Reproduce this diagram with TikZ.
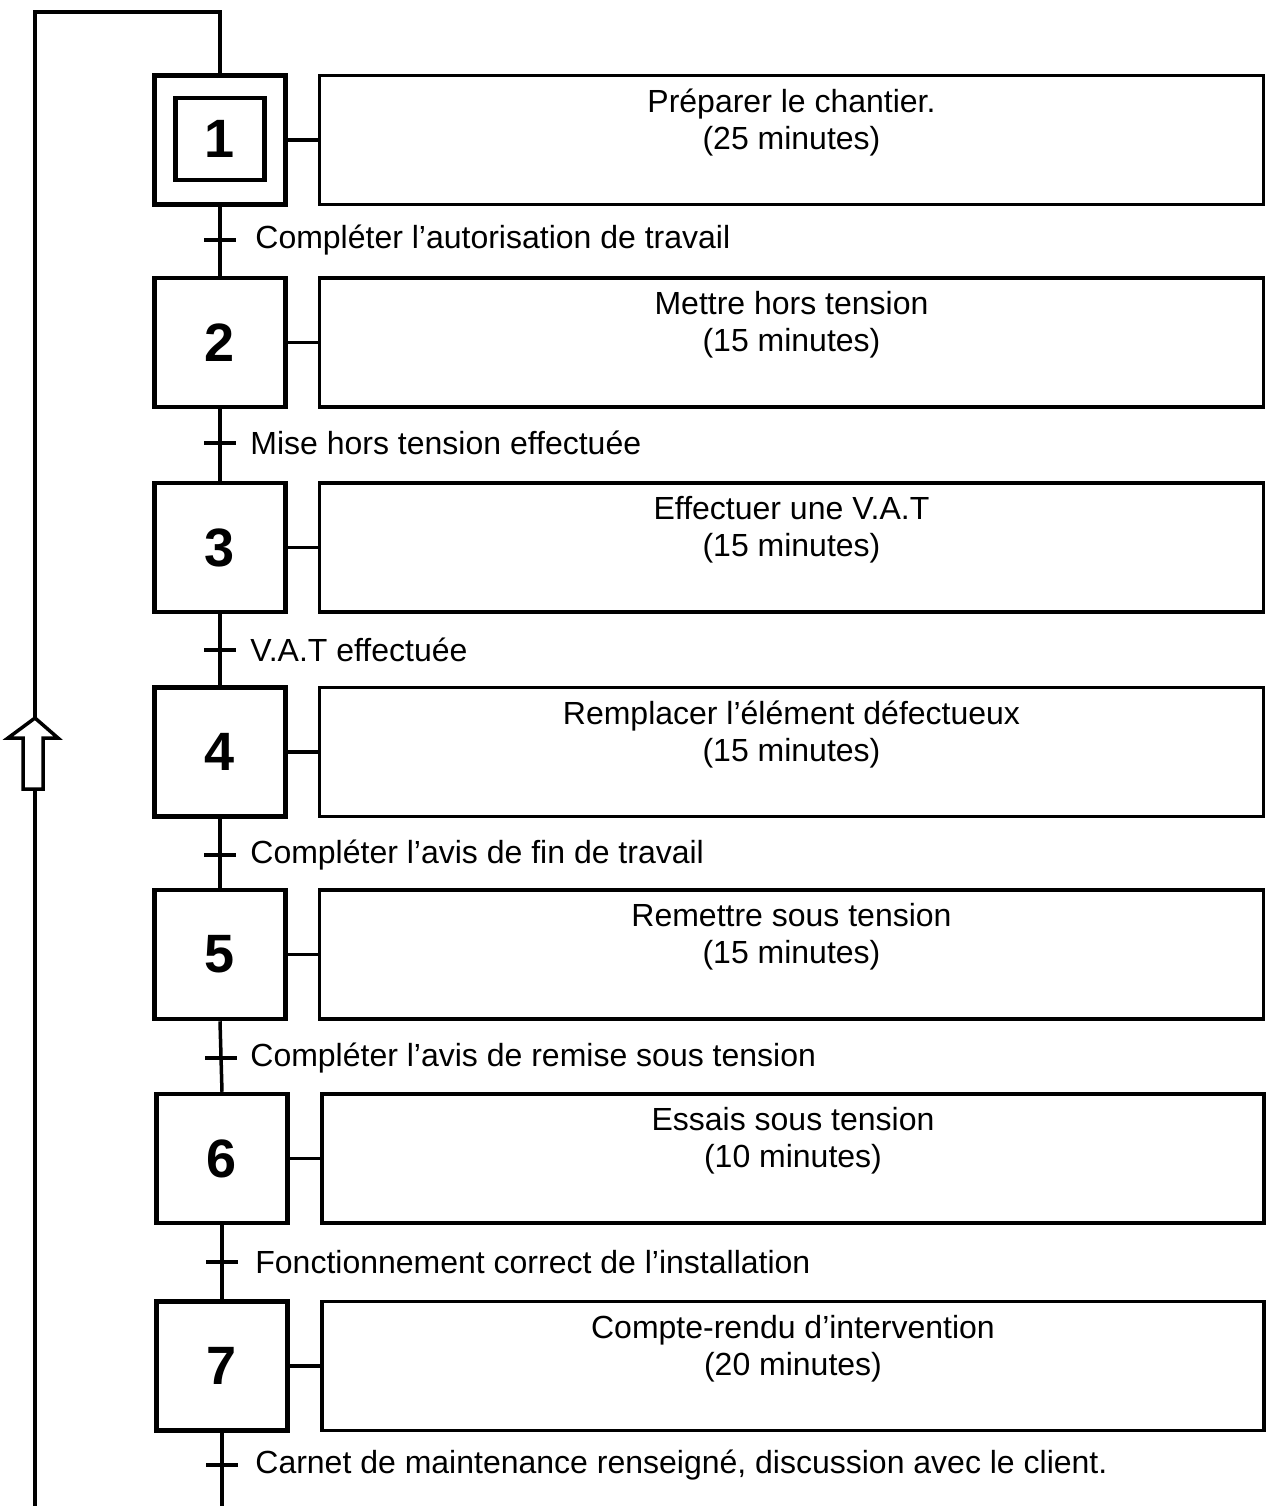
\documentclass[tikz,border=0pt]{standalone}
\usepackage{fontspec}
\setmainfont{Liberation Sans}
\begin{document}
\begin{tikzpicture}[line cap=butt,line join=miter,x=0.5pt,y=-0.5pt,
  etape/.style={draw,line width=2.25pt,minimum width=65.5pt,minimum height=64.5pt,inner sep=0pt,font=\fontsize{27}{30}\selectfont\bfseries},
  action/.style={draw,line width=1.75pt,minimum width=472pt,minimum height=64.5pt,inner sep=0pt},
  texteaction/.style={anchor=north,align=center,inner sep=0pt,font=\fontsize{16}{18.5}\selectfont},
  recept/.style={anchor=west,inner sep=0pt,font=\fontsize{16}{18.5}\selectfont},
  liaison/.style={line width=1.75pt},
  trait/.style={line width=2pt}]
\useasboundingbox (0,0) rectangle (1269,1506);
% etapes
\node[etape] (s1) at (220,140) {};
\node[etape,minimum width=44.5pt,minimum height=41pt] (s1i) at (220,139) {1};
\node[etape] (s2) at (220,342.5) {2};
\node[etape] (s3) at (220,547.5) {3};
\node[etape] (s4) at (220,752) {4};
\node[etape] (s5) at (220,954.5) {5};
\node[etape] (s6) at (222,1158.5) {6};
\node[etape] (s7) at (222,1366) {7};
% actions
\node[action] (a1) at (791.5,140) {};
\node[action] (a2) at (791.5,342.5) {};
\node[action] (a3) at (791.5,547.5) {};
\node[action] (a4) at (791.5,752) {};
\node[action] (a5) at (791.5,954.5) {};
\node[action,minimum width=471pt] (a6) at (793,1158.5) {};
\node[action,minimum width=471pt] (a7) at (793,1366) {};
\node[texteaction] (ta1) at ([yshift=-7.5pt]a1.north) {Préparer le chantier.\\(25 minutes)};
\node[texteaction] (ta2) at ([yshift=-7.5pt]a2.north) {Mettre hors tension\\(15 minutes)};
\node[texteaction] (ta3) at ([yshift=-7.5pt]a3.north) {Effectuer une V.A.T\\(15 minutes)};
\node[texteaction] (ta4) at ([yshift=-7.5pt]a4.north) {Remplacer l’élément défectueux\\(15 minutes)};
\node[texteaction] (ta5) at ([yshift=-7.5pt]a5.north) {Remettre sous tension\\(15 minutes)};
\node[texteaction] (ta6) at ([yshift=-7.5pt]a6.north) {Essais sous tension\\(10 minutes)};
\node[texteaction] (ta7) at ([yshift=-7.5pt]a7.north) {Compte-rendu d’intervention\\(20 minutes)};
\draw[liaison] (s1.east) -- (a1.west);
\draw[liaison] (s2.east) -- (a2.west);
\draw[liaison] (s3.east) -- (a3.west);
\draw[liaison] (s4.east) -- (a4.west);
\draw[liaison] (s5.east) -- (a5.west);
\draw[liaison] (s6.east) -- (a6.west);
\draw[liaison] (s7.east) -- (a7.west);
% transitions
\coordinate (t1) at (220,240);
\coordinate (t2) at (220,443);
\coordinate (t3) at (220,650);
\coordinate (t4) at (220,855);
\coordinate (t5) at (221,1058);
\coordinate (t6) at (222,1262);
\coordinate (t7) at (222,1465);
\draw[liaison] (s1.south) -- (s2.north);
\draw[liaison] (s2.south) -- (s3.north);
\draw[liaison] (s3.south) -- (s4.north);
\draw[liaison] (s4.south) -- (s5.north);
\draw[liaison] (s5.south) -- (s6.north);
\draw[liaison] (s6.south) -- (s7.north);
\draw[trait] (t1) ++(-16,0) -- ++(32,0);
\draw[trait] (t2) ++(-16,0) -- ++(32,0);
\draw[trait] (t3) ++(-16,0) -- ++(32,0);
\draw[trait] (t4) ++(-16,0) -- ++(32,0);
\draw[trait] (t5) ++(-16,0) -- ++(32,0);
\draw[trait] (t6) ++(-16,0) -- ++(32,0);
\draw[trait] (t7) ++(-16,0) -- ++(32,0);
\node[recept] (r1) at (255,240) {Compléter l’autorisation de travail};
\node[recept] (r2) at (250,443) {Mise hors tension effectuée};
\node[recept] (r3) at (250,650) {V.A.T effectuée};
\node[recept] (r4) at (250,855) {Compléter l’avis de fin de travail};
\node[recept] (r5) at (250,1058) {Compléter l’avis de remise sous tension};
\node[recept] (r6) at (255,1262) {Fonctionnement correct de l’installation};
\node[recept] (r7) at (255,1465) {Carnet de maintenance renseigné, discussion avec le client.};
% bouclage
\coordinate (bas) at (222,1506);
\coordinate (g1) at (35,1506);
\coordinate (g2) at (35,12);
\coordinate (h) at (220,12);
\draw[liaison] (s7.south) -- (bas);
\draw[liaison] (g1) -- (g2) -- (h) -- (s1.north);
\draw[line width=1.75pt,fill=white] (35,718) -- (58,738) -- (43,738) -- (43,789) -- (23,789) -- (23,738) -- (8,738) -- cycle;
\end{tikzpicture}
\end{document}
